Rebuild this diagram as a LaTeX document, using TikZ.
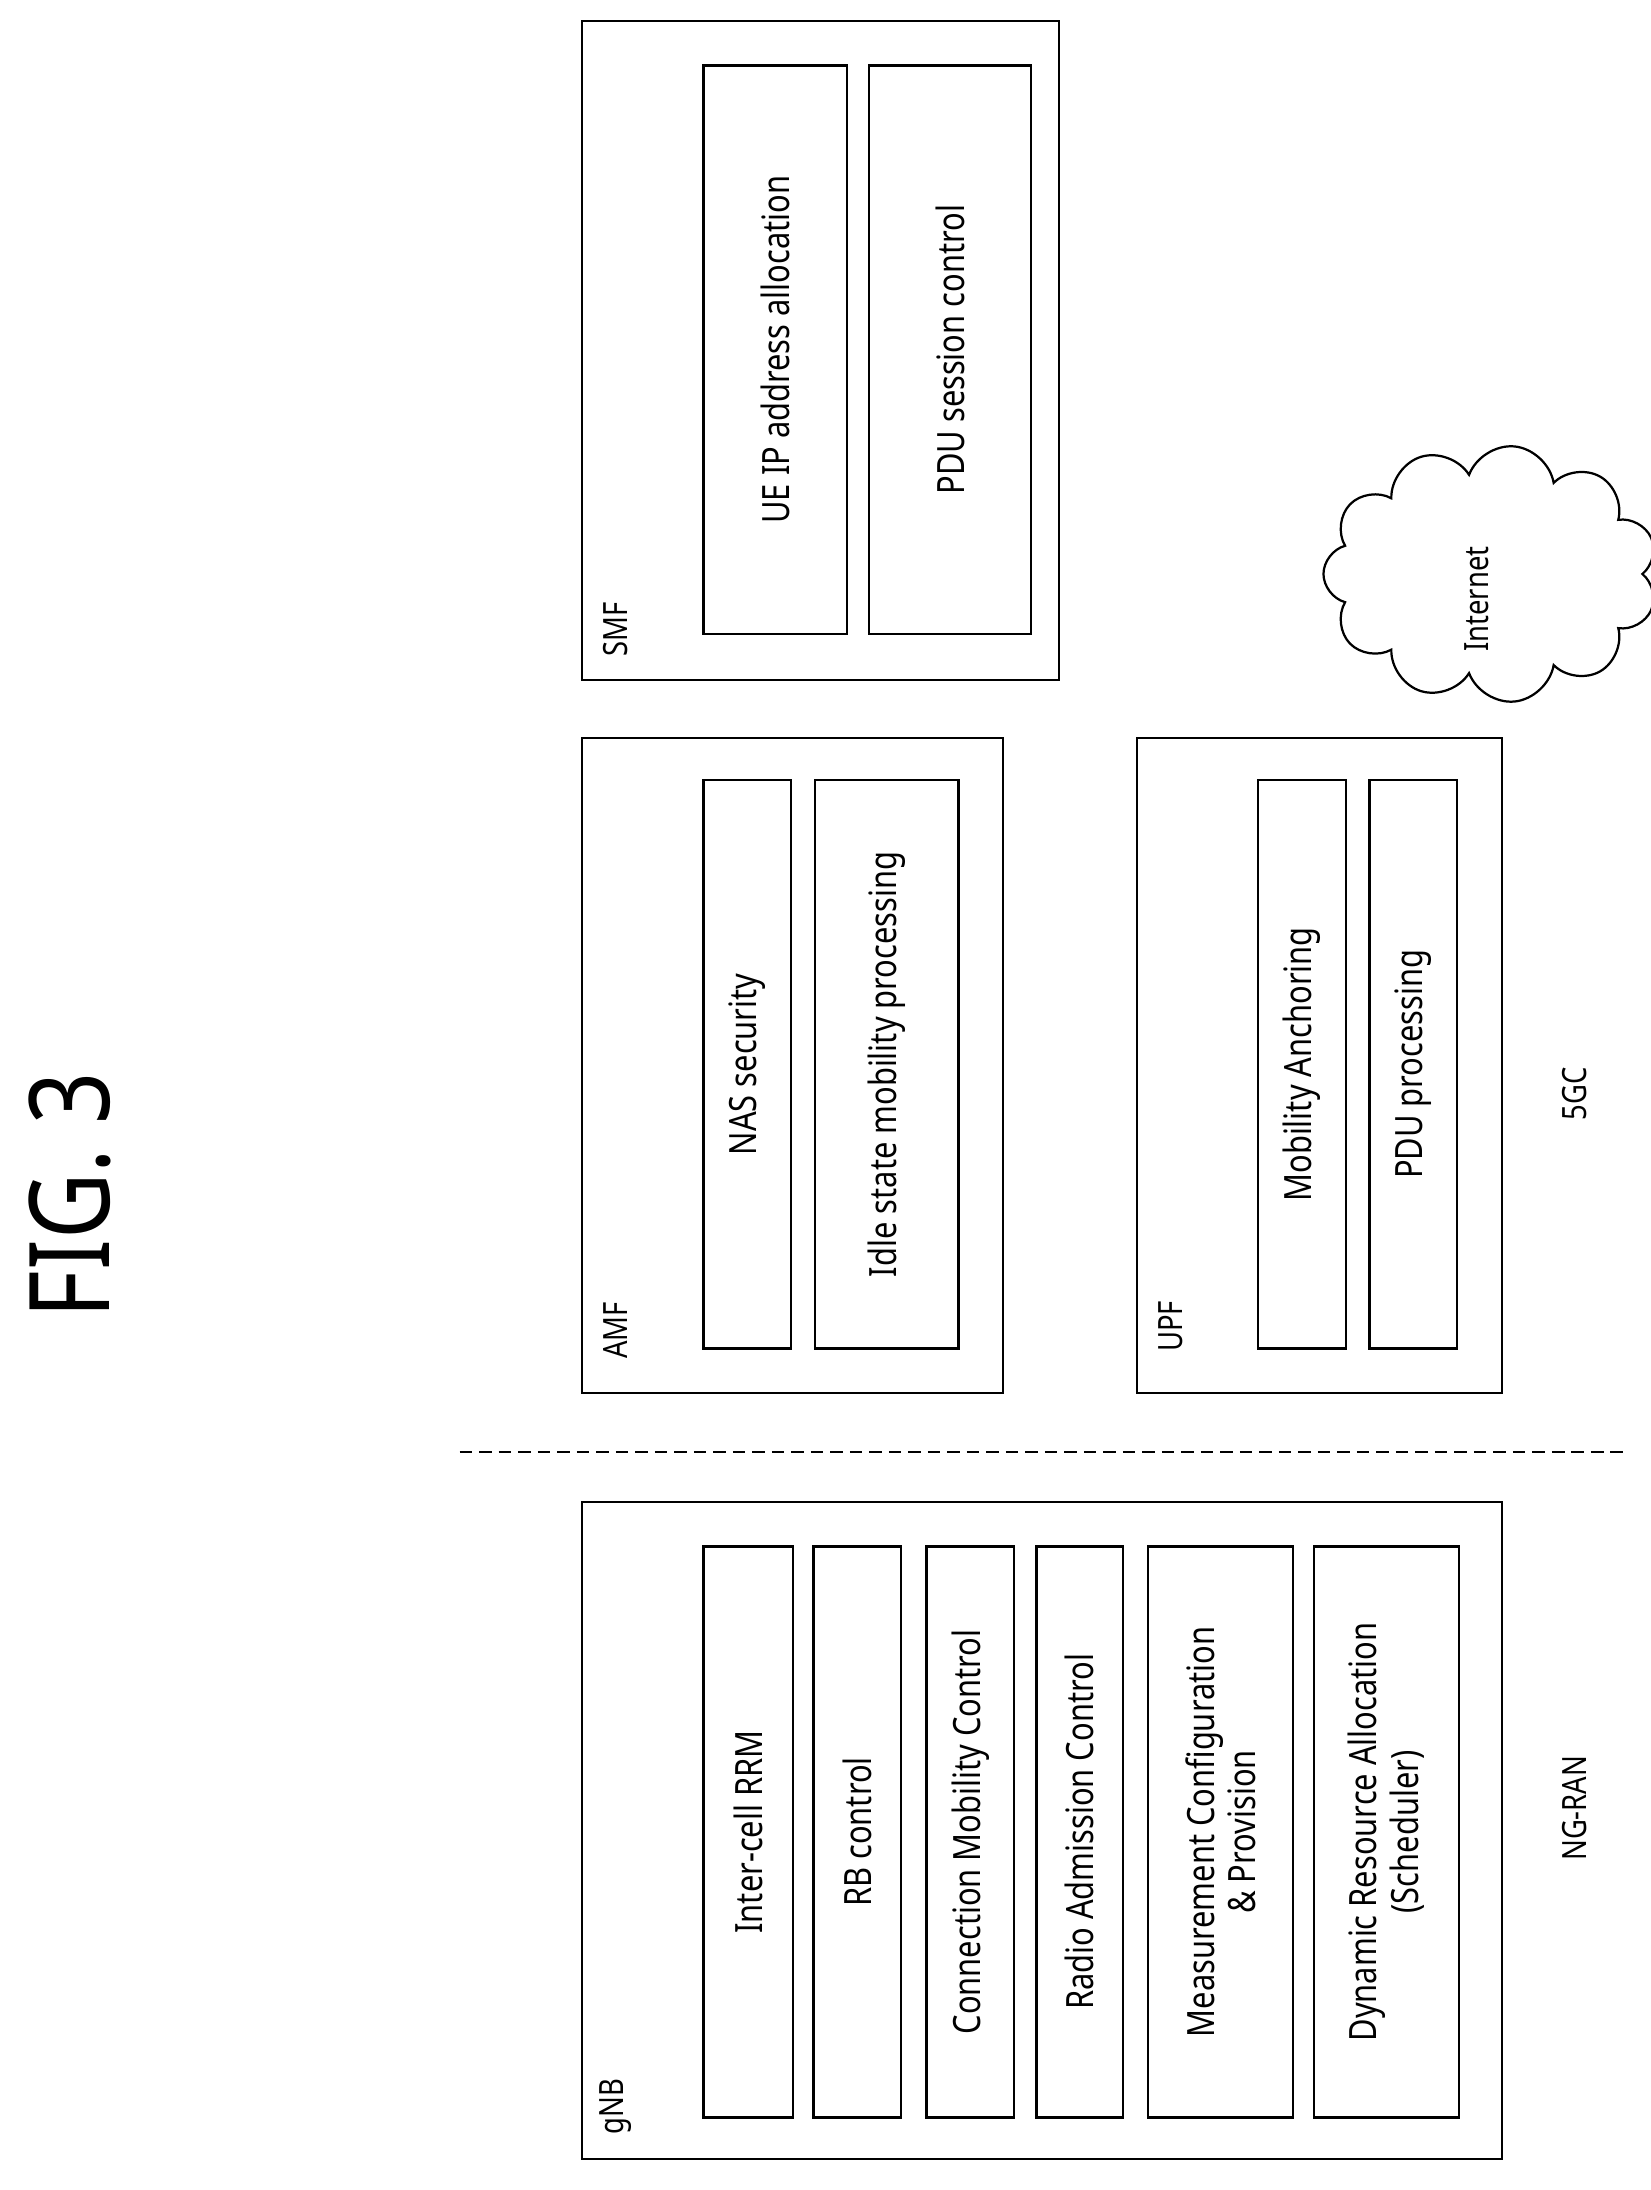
\documentclass[tikz,border=0pt]{standalone}
\usepackage{fontspec}
\setmainfont{Noto Sans}
\usetikzlibrary{shapes.symbols}
\begin{document}
\begin{tikzpicture}[x=1pt,y=-1pt,
  box/.style={draw,line width=1.6pt,fill=white},
  lab/.style={rotate=90,font=\fontsize{27}{31}\selectfont,align=center,inner sep=0pt},
  tag/.style={rotate=90,font=\fontsize{24}{28}\selectfont,inner sep=0pt}]
\useasboundingbox (0,0) rectangle (1185,1572);
\newcommand{\cz}[1]{\scalebox{0.82}[1]{#1}}
\node[rotate=90,font=\fontsize{80}{90}\selectfont,inner sep=0pt] (fig) at (50,858) {\cz{FIG. 3}};
% cloud
\node[cloud,draw,line width=1.6pt,cloud puffs=11,aspect=0.7,minimum width=185pt,minimum height=240pt,rotate=90] (cloud) at (1070,412) {};
\node[tag] (inet) at (1060,430) {\cz{Internet}};
% SMF
\draw[box] (418,15) rectangle (760,488);
\node[tag] (smf) at (442,452) {\cz{SMF}};
\draw[box] (505,47) rectangle (608,455);
\node[lab] (s1) at (556.5,251) {\cz{UE IP address allocation}};
\draw[box] (624,47) rectangle (740,455);
\node[lab] (s2) at (682,251) {\cz{PDU session control}};
% AMF
\draw[box] (418,530) rectangle (720,1000);
\node[tag] (amf) at (442,955) {\cz{AMF}};
\draw[box] (505,560) rectangle (568,968);
\node[lab] (a1) at (536.5,764) {\cz{NAS security}};
\draw[box] (585,560) rectangle (688,968);
\node[lab] (a2) at (636.5,764) {\cz{Idle state mobility processing}};
% UPF
\draw[box] (816,530) rectangle (1078,1000);
\node[tag] (upf) at (840,952) {\cz{UPF}};
\draw[box] (903,560) rectangle (966,968);
\node[lab] (u1) at (934.5,764) {\cz{Mobility Anchoring}};
\draw[box] (983,560) rectangle (1046,968);
\node[lab] (u2) at (1014.5,764) {\cz{PDU processing}};
\node[tag] (fgc) at (1130,785) {\cz{5GC}};
% dashed
\draw[line width=1.4pt,dash pattern=on 9pt off 5pt] (330,1042) -- (1167,1042);
% gNB
\draw[box] (418,1078) rectangle (1078,1550);
\node[tag] (gnb) at (442,1512) {\cz{gNB}};
\foreach \a/\b/\t [count=\i] in {505/569/Inter-cell RRM,584/647/RB control,665/728/Connection Mobility Control,744/806/Radio Admission Control,824/928/{Measurement Configuration\\\& Provision},943/1047/{Dynamic Resource Allocation\\(Scheduler)}}{
  \draw[box] (\a,1110) rectangle (\b,1520);
  \node[lab] (g\i) at ({(\a+\b)/2},1315) {\cz{\shortstack{\t}}};
}
\node[tag] (ngran) at (1130,1298) {\cz{NG-RAN}};
\end{tikzpicture}
\end{document}
